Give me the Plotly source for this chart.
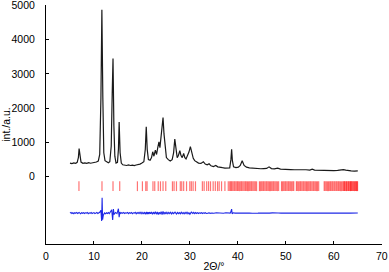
import plotly.graph_objects as go

# Observed pattern (2theta, intensity)
obs_x = [5.0, 5.4, 5.8, 6.2, 6.5, 6.75, 6.9, 7.05, 7.3, 7.7,
         8.1, 8.5, 8.9, 9.3, 9.7, 10.1, 10.5, 10.9, 11.2, 11.45,
         11.65, 11.85, 12.05, 12.3, 12.7, 13.0, 13.3, 13.6, 13.8, 13.97,
         14.15, 14.35, 14.6, 14.9, 15.1, 15.25, 15.45, 15.7, 16.0, 16.4,
         16.8, 17.2, 17.6, 18.0, 18.4, 18.8, 19.2, 19.6, 20.0, 20.4,
         20.7, 20.9, 21.1, 21.35, 21.7, 22.0, 22.25, 22.5, 22.8, 23.05,
         23.3, 23.55, 23.75, 23.95, 24.15, 24.4, 24.6, 24.85, 25.1, 25.5,
         25.9, 26.3, 26.6, 26.85, 27.1, 27.35, 27.6, 27.9, 28.15, 28.4,
         28.7, 28.95, 29.2, 29.5, 29.8, 30.1, 30.4, 30.7, 31.0, 31.4,
         31.8, 32.3, 32.8, 33.2, 33.6, 34.0, 34.4, 34.9, 35.4, 35.8,
         36.3, 36.8, 37.3, 37.8, 38.3, 38.55, 38.7, 38.85, 39.1, 39.6,
         40.1, 40.5, 40.9, 41.3, 41.8, 42.4, 43.0, 43.6, 44.2, 44.8,
         45.4, 46.0, 46.5, 47.0, 47.6, 48.3, 48.9, 49.5, 50.2, 51.0,
         51.8, 52.6, 53.4, 54.2, 55.0, 55.5, 56.0, 56.8, 57.6, 58.4,
         59.2, 60.0, 60.8, 61.5, 62.0, 62.5, 63.0, 63.6, 64.3, 65.0]
obs_y = [400, 385, 405, 395, 420, 560, 820, 600, 430, 395,
         405, 390, 410, 395, 405, 415, 430, 460, 650, 2300,
         4870, 2300, 700, 470, 430, 410, 440, 900, 2400, 3450,
         1500, 600, 400, 420, 800, 1600, 700, 400, 350, 340,
         330, 345, 330, 340, 325, 345, 350, 370, 400, 440,
         800, 1460, 800, 500, 480, 560, 730, 600, 780, 650,
         850, 1020, 850, 1100, 1250, 1730, 1250, 750, 560, 500,
         460, 500, 700, 1100, 720, 560, 620, 760, 620, 560,
         680, 560, 520, 600, 720, 880, 700, 540, 470, 430,
         400, 390, 440, 370, 350, 380, 320, 300, 330, 290,
         270, 265, 255, 250, 260, 500, 800, 480, 290, 270,
         280, 330, 470, 330, 280, 260, 250, 250, 240, 235,
         240, 245, 290, 240, 230, 250, 225, 215, 210, 210,
         205, 210, 200, 205, 195, 220, 195, 190, 180, 175,
         170, 180, 185, 195, 210, 195, 175, 170, 165, 170]

# Reflection positions (2theta)
refl_x = [6.87, 11.67, 13.97, 15.37, 19.06, 20.1, 20.8, 21.07, 22.3, 22.67,
          23.4, 23.86, 24.4, 24.97, 26.36, 26.7, 27.2, 28.0, 28.3, 28.7,
          29.3, 29.98, 30.3, 30.67, 31.16, 32.6, 32.97, 33.5, 33.9, 34.3,
          34.85, 35.3, 35.76, 36.1, 36.6, 37.3,
          38.0, 38.3, 38.5, 38.7, 38.95, 39.2, 39.4, 39.65, 39.9, 40.1,
          40.35, 40.6, 40.8, 41.05, 41.3, 41.55, 41.75, 42.0, 42.2, 42.45,
          42.7, 42.9, 43.15, 43.4, 43.65, 43.9, 44.5, 44.7, 44.95, 45.2,
          45.4, 45.65, 45.9, 46.1, 46.35, 46.6, 46.8, 47.05, 47.3, 47.5,
          47.75, 48.0, 48.25, 48.5, 49.1, 49.3, 49.55, 49.8, 50.0, 50.25,
          50.5, 50.7, 50.95, 51.2, 51.45, 51.65, 52.2, 52.4, 52.65, 52.9,
          53.1, 53.35, 53.6, 53.8, 54.05, 54.3, 54.5, 54.75, 55.0, 55.2,
          55.45, 55.7, 55.9, 56.15, 56.4, 56.6, 56.85, 58.0, 58.2, 58.45,
          58.7, 58.9, 59.15, 59.35, 59.6, 59.8, 60.05, 60.25, 60.5, 60.7,
          60.95, 61.15, 61.4, 61.6, 61.85, 62.05, 62.2, 62.3, 62.5, 62.65,
          62.75, 62.95, 63.1, 63.2, 63.4, 63.5, 63.6, 63.75, 63.85, 64.05,
          64.2, 64.3, 64.5, 64.6, 64.75, 64.85, 64.95]
refl_level = -275

# Difference curve (2theta, obs - calc, offset)
diff_x = [5.0, 5.2, 5.4, 5.6, 5.8, 6.0, 6.2, 6.4, 6.6, 6.9, 7.2, 7.4, 7.6, 7.8, 8.0, 8.2, 8.4,
          8.6, 8.8, 9.0, 9.2, 9.4, 9.6, 9.8, 10.0, 10.2, 10.4, 10.6, 10.8, 11.0, 11.2, 11.45, 11.6, 11.7,
          11.8, 11.95, 12.2, 12.4, 12.6, 12.8, 13.0, 13.2, 13.4, 13.7, 13.9, 14.05, 14.2,
          14.5, 14.8, 15.1, 15.25, 15.4, 15.6, 15.8, 16.0, 16.2, 16.4, 16.6, 16.8, 17.0, 17.2,
          17.4, 17.6, 17.8, 18.0, 18.2, 18.4, 18.6, 18.8, 19.0, 19.2, 19.4, 19.6, 19.8, 20.0,
          20.2, 20.4, 20.6, 20.8, 21.0, 21.15, 21.3, 21.45, 21.6, 21.8, 22.0, 22.2, 22.4, 22.6,
          22.8, 23.0, 23.2, 23.4, 23.6, 23.8, 24.0, 24.2, 24.4, 24.6, 24.8, 25.0, 25.2, 25.4,
          25.6, 25.8, 26.0, 26.2, 26.4, 26.6, 26.9, 27.2, 27.4, 27.6, 27.8, 28.0, 28.2, 28.4,
          28.6, 28.8, 29.0, 29.2, 29.4, 29.6, 29.8, 30.0, 30.3, 30.6, 30.8, 31.0, 31.2, 31.4,
          31.6, 31.8, 32.0, 32.2, 32.4, 32.6, 32.8, 33.0, 33.2, 33.4, 33.6, 33.8, 34.0, 34.2,
          34.6, 35.0, 35.5, 36.0, 36.5, 37.0, 37.5, 38.0, 38.4, 38.6, 38.7, 38.8, 39.0, 39.4,
          40.0, 40.6, 41.2, 41.8, 42.4, 43.0, 43.6, 44.2, 44.8, 45.4,
          46.0, 46.6, 47.2, 47.8, 48.4, 49.0, 49.6, 50.2, 50.8, 51.4,
          52.0, 52.6, 53.2, 53.8, 54.4, 55.0, 55.6, 56.2, 56.8, 57.4,
          58.0, 58.6, 59.2, 59.8, 60.4, 61.0, 61.6, 62.2, 62.8, 63.4,
          64.0, 64.5, 65.0]
diff_y = [-1060, -1040, -1070, -1050, -1075, -1045, -1065, -1040, -1070, -1040, -1080, -1050, -1065, -1045, -1070, -1050, -1060,
          -1040, -1075, -1050, -1065, -1040, -1070, -1050, -1045, -1075, -1055, -1040, -1070, -1050, -1035, -980, -1290, -610,
          -1250, -1120, -1055, -1080, -1050, -1070, -1045, -1075, -1020, -960, -1260, -940, -1100,
          -1040, -1075, -930, -1180, -1030, -1070, -1045, -1065, -1040, -1070, -1050, -1060, -1040, -1075,
          -1045, -1065, -1040, -1075, -1050, -1060, -1035, -1080, -1045, -1070, -1040, -1075, -1035, -1080,
          -1040, -1085, -1030, -1090, -1025, -1085, -1035, -1090, -1030, -1080, -1025, -1095, -1030, -1085,
          -1020, -1090, -1025, -1100, -1030, -1090, -1015, -1100, -1010, -1095, -1030, -1085, -1035, -1080,
          -1040, -1075, -1035, -1085, -1040, -1075, -1030, -1085, -1040, -1075, -1045, -1080, -1035, -1075,
          -1045, -1080, -1040, -1075, -1035, -1080, -1045, -1090, -1030, -1070, -1040, -1075, -1045, -1070,
          -1045, -1070, -1050, -1065, -1045, -1070, -1050, -1065, -1045, -1070, -1055, -1060, -1050, -1065,
          -1055, -1065, -1050, -1060, -1055, -1065, -1050, -1060, -1060, -1000, -940, -1080, -1050, -1060,
          -1055, -1065, -1050, -1060, -1055, -1062, -1052, -1060, -1056, -1062,
          -1055, -1060, -1052, -1062, -1056, -1060, -1054, -1062, -1057, -1060,
          -1055, -1061, -1056, -1062, -1055, -1060, -1054, -1061, -1056, -1060,
          -1054, -1061, -1056, -1060, -1055, -1062, -1056, -1060, -1055, -1061,
          -1056, -1060, -1057]

x_ticks = [0, 10, 20, 30, 40, 50, 60, 70]
y_ticks = [0, 1000, 2000, 3000, 4000, 5000]

fig = go.Figure()
fig.add_trace(go.Scatter(x=obs_x, y=obs_y, mode="lines",
                         line=dict(color="#1a1a1a", width=1.2)))
fig.add_trace(go.Scatter(x=refl_x, y=[refl_level] * len(refl_x), mode="markers",
                         marker=dict(symbol="line-ns", size=7,
                                     line=dict(width=1.2, color="rgba(255,0,0,0.55)"))))
fig.add_trace(go.Scatter(x=diff_x, y=diff_y, mode="lines",
                         line=dict(color="#1e28e6", width=1.1)))

fig.update_layout(
    width=389, height=272,
    margin=dict(l=46, r=7, t=5, b=28),
    paper_bgcolor="white", plot_bgcolor="white",
    showlegend=False,
    font=dict(family="Liberation Sans, Arial, sans-serif", size=10.5, color="black"),
)
fig.update_xaxes(range=[0, 70.05], tickvals=x_ticks, ticks="inside", ticklen=3,
                 tickcolor="black", showline=True, linecolor="black", linewidth=1,
                 showgrid=False, zeroline=False, ticklabeloverflow="allow",
                 ticklabelstandoff=2,
                 title=dict(text="2Θ/°", standoff=2, font=dict(size=10.5)),
                 automargin=False)
fig.update_yaxes(range=[-1960, 5010], tickvals=y_ticks, ticks="inside", ticklen=3,
                 tickcolor="black", showline=True, linecolor="black", linewidth=1,
                 showgrid=False, zeroline=False, ticklabelstandoff=8,
                 ticklabeloverflow="allow",
                 title=dict(text="int./a.u.", standoff=6, font=dict(size=10.5)),
                 automargin=False)

fig.write_html("out.html", config={"displayModeBar": False},
               post_script="document.body.style.margin='0';")
